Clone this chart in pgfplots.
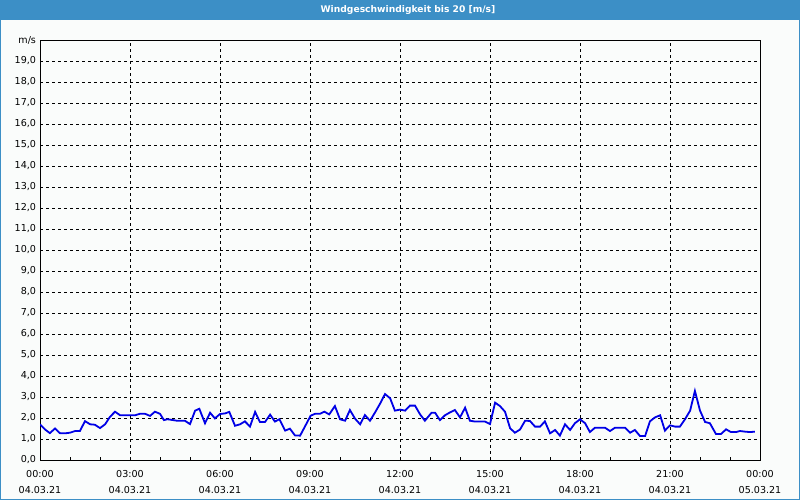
\documentclass[border=0pt]{standalone}
\usepackage{pgfplots}
\pgfplotsset{compat=1.18}
\usepackage{fontspec}
\setmainfont{DejaVu Sans}
\definecolor{titleblue}{HTML}{3C8FC6}
\definecolor{lineblue}{HTML}{0000E6}
\definecolor{bgc}{HTML}{FAFCFB}
\begin{document}
\begin{tikzpicture}[x=1bp,y=1bp]
\useasboundingbox (0,0) rectangle (800,500);
\fill[bgc] (0,0) rectangle (800,500);
\fill[titleblue] (0,480) rectangle (800,500);
\draw[titleblue, line width=2bp] (0,0) rectangle (800,500);
\node[white, font=\bfseries\fontsize{9.2}{11}\selectfont] at (408,490) {Windgeschwindigkeit bis 20 [m/s]};
\begin{axis}[
  at={(40bp,40bp)}, anchor=south west,
  scale only axis, width=720bp, height=420bp,
  xmin=0, xmax=24, ymin=0, ymax=20,
  axis line style={black, line width=0.8bp},
  xtick={0,3,...,24},
  minor xtick={1,2,4,5,7,8,10,11,13,14,16,17,19,20,22,23},
  xticklabels={{00:00\\04.03.21},{03:00\\04.03.21},{06:00\\04.03.21},{09:00\\04.03.21},{12:00\\04.03.21},{15:00\\04.03.21},{18:00\\04.03.21},{21:00\\04.03.21},{00:00\\05.03.21}},
  ytick={0,...,20},
  yticklabels={{0,0},{1,0},{2,0},{3,0},{4,0},{5,0},{6,0},{7,0},{8,0},{9,0},{10,0},{11,0},{12,0},{13,0},{14,0},{15,0},{16,0},{17,0},{18,0},{19,0},m/s},
  xtick pos=bottom, ytick pos=left, tick align=inside,
  major tick length=0pt, minor tick length=3bp,
  minor tick style={black, line width=0.8bp},
  grid=major,
  major grid style={black, line width=0.8bp, dash pattern=on 3bp off 3bp},
  ticklabel style={font=\fontsize{9.6}{16}\selectfont},
  xticklabel style={align=center, yshift=-7bp},
  yticklabel style={xshift=-0.5bp},
]
\addplot[lineblue, line width=1.8bp, no marks] coordinates {
(0.00,1.70)(0.17,1.45)(0.33,1.28)(0.50,1.50)(0.67,1.27)(0.83,1.27)(1.00,1.30)(1.17,1.38)(1.33,1.38)
(1.50,1.85)(1.67,1.70)(1.83,1.68)(2.00,1.52)(2.17,1.70)(2.33,2.05)(2.50,2.30)(2.67,2.13)(2.83,2.13)
(3.00,2.13)(3.17,2.13)(3.33,2.20)(3.50,2.20)(3.67,2.10)(3.83,2.30)(4.00,2.20)(4.13,1.90)(4.25,1.94)
(4.44,1.90)(4.56,1.87)(4.83,1.87)(5.00,1.71)(5.17,2.35)(5.31,2.44)(5.50,1.75)(5.67,2.25)(5.83,1.98)
(6.00,2.19)(6.17,2.22)(6.31,2.29)(6.50,1.63)(6.67,1.70)(6.83,1.84)(7.00,1.59)(7.17,2.29)(7.33,1.81)
(7.50,1.81)(7.67,2.16)(7.83,1.83)(7.98,1.94)(8.17,1.40)(8.33,1.49)(8.50,1.17)(8.67,1.16)(8.83,1.59)
(9.02,2.11)(9.17,2.20)(9.33,2.20)(9.48,2.30)(9.64,2.17)(9.83,2.57)(10.00,1.94)(10.17,1.87)(10.33,2.38)
(10.50,1.97)(10.67,1.70)(10.83,2.14)(11.00,1.87)(11.17,2.27)(11.33,2.67)(11.50,3.14)(11.67,2.94)
(11.83,2.35)(12.00,2.40)(12.17,2.35)(12.33,2.59)(12.50,2.59)(12.67,2.17)(12.83,1.87)(13.05,2.25)
(13.17,2.25)(13.33,1.90)(13.50,2.13)(13.67,2.27)(13.83,2.38)(14.00,2.03)(14.17,2.49)(14.33,1.87)
(14.50,1.83)(14.67,1.83)(14.83,1.83)(15.00,1.71)(15.17,2.73)(15.33,2.57)(15.50,2.30)(15.67,1.51)
(15.83,1.30)(16.00,1.45)(16.17,1.87)(16.33,1.86)(16.50,1.59)(16.67,1.59)(16.83,1.84)(17.00,1.27)
(17.17,1.43)(17.33,1.16)(17.50,1.70)(17.67,1.43)(17.83,1.75)(18.00,1.94)(18.17,1.75)(18.33,1.33)
(18.50,1.54)(18.67,1.54)(18.83,1.54)(19.00,1.38)(19.17,1.54)(19.33,1.54)(19.50,1.54)(19.67,1.30)
(19.83,1.43)(20.00,1.14)(20.17,1.14)(20.33,1.84)(20.50,2.03)(20.67,2.13)(20.83,1.40)(21.00,1.65)
(21.17,1.59)(21.33,1.59)(21.50,1.94)(21.67,2.35)(21.83,3.29)(22.00,2.35)(22.17,1.81)(22.33,1.75)
(22.53,1.24)(22.70,1.24)(22.87,1.46)(23.03,1.33)(23.20,1.33)(23.33,1.38)(23.50,1.35)(23.67,1.33)(23.83,1.35)
};
\end{axis}
\end{tikzpicture}
\end{document}
